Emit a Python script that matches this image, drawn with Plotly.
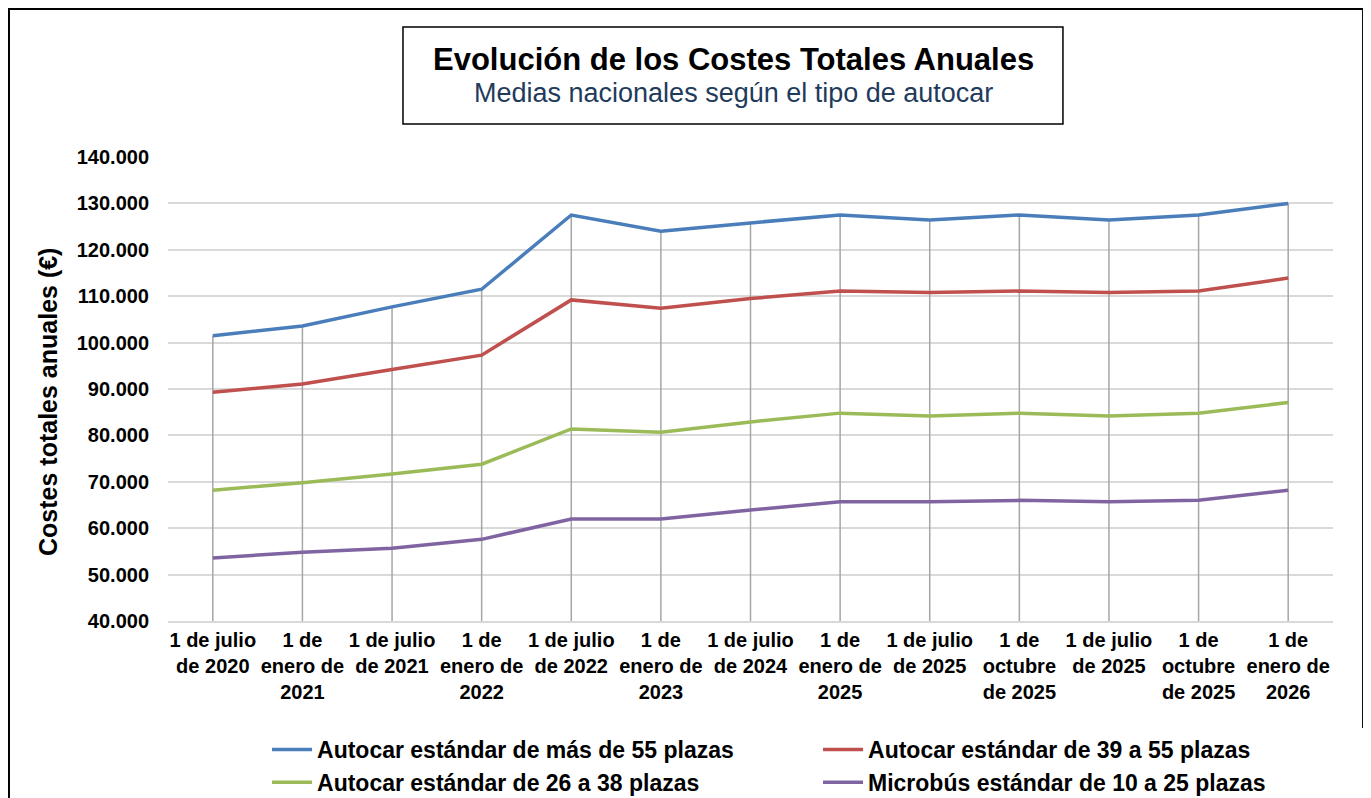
import plotly.graph_objects as go

categories = [
    "1 de julio<br>de 2020", "1 de<br>enero de<br>2021", "1 de julio<br>de 2021",
    "1 de<br>enero de<br>2022", "1 de julio<br>de 2022", "1 de<br>enero de<br>2023",
    "1 de julio<br>de 2024", "1 de<br>enero de<br>2025", "1 de julio<br>de 2025",
    "1 de<br>octubre<br>de 2025", "1 de julio<br>de 2025", "1 de<br>octubre<br>de 2025",
    "1 de<br>enero de<br>2026",
]
mas_55 = [101500, 103600, 107700, 111500, 127500, 124000, 125800, 127500, 126400, 127500, 126400, 127500, 130000]
de_39_55 = [89300, 91100, 94200, 97300, 109200, 107400, 109500, 111100, 110800, 111100, 110800, 111100, 113900]
de_26_38 = [68200, 69800, 71700, 73800, 81400, 80700, 82900, 84800, 84200, 84800, 84200, 84800, 87100]
micro_10_25 = [53600, 54800, 55700, 57600, 62000, 62000, 63900, 65700, 65700, 66000, 65700, 66000, 68200]

series = [
    ("Autocar estándar de más de 55 plazas", mas_55, "#4A7EBB"),
    ("Autocar estándar de 39 a 55 plazas", de_39_55, "#C0504D"),
    ("Autocar estándar de 26 a 38 plazas", de_26_38, "#9BBB59"),
    ("Microbús estándar de 10 a 25 plazas", micro_10_25, "#8064A2"),
]

y_min, y_max = 40000, 140000
xs = list(range(len(categories)))

FONT = "Liberation Sans, Arial, sans-serif"

fig = go.Figure()

# drop lines from the highest series down to the axis
drop_x, drop_y = [], []
for i in xs:
    top = max(s[1][i] for s in series)
    drop_x += [i, i, None]
    drop_y += [y_min, top, None]
fig.add_trace(go.Scatter(x=drop_x, y=drop_y, mode="lines",
                         line=dict(color="#A6A6A6", width=1.5),
                         showlegend=False, hoverinfo="skip"))

for name, vals, color in series:
    fig.add_trace(go.Scatter(x=xs, y=vals, mode="lines", name=name,
                             line=dict(color=color, width=3.5)))

fig.update_layout(
    width=1363, height=790,
    margin=dict(l=160, r=38, t=149, b=177, autoexpand=False),
    paper_bgcolor="white", plot_bgcolor="white",
    separators=",.",
    font=dict(family=FONT, color="black"),
    showlegend=True,
    legend=dict(orientation="h", x=0.085, y=-0.2306, xanchor="left", yanchor="top",
                entrywidth=496, entrywidthmode="pixels", itemwidth=40,
                font=dict(family=FONT, size=23, weight="bold", color="black"),
                tracegroupgap=0, traceorder="normal"),
    xaxis=dict(tickmode="array", tickvals=xs, ticktext=categories,
               range=[-0.5, len(categories) - 0.5],
               showgrid=False, zeroline=False,
               showline=True, linecolor="#D9D9D9", linewidth=1.5,
               ticks="", ticklabelstandoff=0,
               tickfont=dict(family=FONT, size=20, weight="bold", color="black")),
    yaxis=dict(range=[y_min, y_max], dtick=10000, tick0=0,
               tickformat=",.0f", showgrid=True, gridcolor="#D9D9D9", gridwidth=1.5,
               zeroline=False, showline=False, ticks="", ticklabelstandoff=18,
               tickfont=dict(family=FONT, size=20, weight="bold", color="black")),
)

# outer chart border
fig.add_shape(type="rect", xref="paper", yref="paper",
              x0=-0.1365, x1=1.0258, y0=-0.40, y1=1.319,
              line=dict(color="black", width=2), layer="below")
# title box
fig.add_shape(type="rect", xref="paper", yref="paper",
              x0=0.2017, x1=0.7682, y0=1.0711, y1=1.2802,
              line=dict(color="black", width=1.5))

fig.add_annotation(text="Evolución de los Costes Totales Anuales", xref="paper", yref="paper",
                   x=0.485, y=1.211, showarrow=False, xanchor="center", yanchor="middle",
                   font=dict(family=FONT, size=31, weight="bold", color="black"))
fig.add_annotation(text="Medias nacionales según el tipo de autocar", xref="paper", yref="paper",
                   x=0.485, y=1.138, showarrow=False, xanchor="center", yanchor="middle",
                   font=dict(family=FONT, size=27, color="#1F3B5C"))
fig.add_annotation(text="Costes totales anuales (€)", xref="paper", yref="paper",
                   x=-0.103, y=0.472, showarrow=False, textangle=-90,
                   xanchor="center", yanchor="middle",
                   font=dict(family=FONT, size=25, weight="bold", color="black"))

fig.write_html("out.html")
